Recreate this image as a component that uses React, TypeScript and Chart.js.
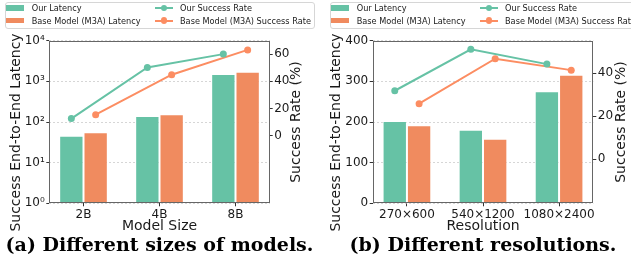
import React, { useEffect, useRef } from "react";
import { Chart, registerables } from "chart.js";

Chart.register(...registerables);
Chart.defaults.font.family = '"DejaVu Sans", sans-serif';

// ---------- data: (a) model size ----------
const sizeCategories = ["2B", "4B", "8B"];
const sizeOurLatency = [46, 141, 1517];
const sizeBaseLatency = [56, 155, 1727];
const sizeOurSuccess = [12.5, 50.3, 60.1];
const sizeBaseSuccess = [15.4, 44.9, 63.2];
const sizeLatencyTicks = [1, 10, 100, 1000, 10000];
const sizeLatencyTickLabels = ["10⁰", "10¹", "10²", "10³", "10⁴"];
const sizeSuccessTicks = [0, 20, 40, 60];

// ---------- data: (b) resolution ----------
const resCategories = ["270×600", "540×1200", "1080×2400"];
const resOurLatency = [202.5, 181, 275.5];
const resBaseLatency = [191.9, 159, 316.4];
const resOurSuccess = [31.9, 51.2, 44.3];
const resBaseSuccess = [25.9, 46.8, 41.5];
const resLatencyTicks = [0, 100, 200, 300, 400];
const resLatencyTickLabels = ["0", "100", "200", "300", "400"];
const resSuccessTicks = [0, 20, 40];

const legendLabels = [
  "Our Latency",
  "Base Model (M3A) Latency",
  "Our Success Rate",
  "Base Model (M3A) Success Rate",
];

const GREEN = "#66c2a5";
const ORANGE = "#fc8d62";
const BAR_GREEN = "#66c2a5";
const BAR_ORANGE = "#f08b5f";
const TEXT = "#1a1a1a";
const FRAME = "#666666";
const OFFSET = 0.16;

interface PanelProps {
  width: number;
  height: number;
  categories: string[];
  ourLat: number[];
  baseLat: number[];
  ourSucc: number[];
  baseSucc: number[];
  yType: "logarithmic" | "linear";
  yMin: number;
  yMax: number;
  yTicks: number[];
  yLabels: string[];
  y1Min: number;
  y1Max: number;
  y1Ticks: number[];
  xTitle: string;
  leftW: number;
  rightW: number;
  top: number;
  bottom: number;
  leftTitleX: number;
  leftTitleY: number;
  rightTitleX: number;
}

function Panel(p: PanelProps) {
  const ref = useRef<HTMLCanvasElement | null>(null);
  useEffect(() => {
    if (!ref.current) return;
    const framePlugin = {
      id: "frameTitles",
      afterDraw(chart: any) {
        const { ctx, chartArea } = chart;
        ctx.save();
        ctx.strokeStyle = FRAME;
        ctx.lineWidth = 1;
        const l = Math.round(chartArea.left) + 0.5;
        const r = Math.round(chartArea.right) - 0.5;
        const t = Math.round(chartArea.top) + 0.5;
        const b = Math.round(chartArea.bottom) - 0.5;
        ctx.strokeRect(l, t, r - l, b - t);
        ctx.fillStyle = TEXT;
        ctx.font = '14px "DejaVu Sans"';
        ctx.textAlign = "center";
        ctx.textBaseline = "middle";
        ctx.translate(p.leftTitleX, p.leftTitleY);
        ctx.rotate(-Math.PI / 2);
        ctx.fillText("Success End-to-End Latency", 0, 0);
        ctx.restore();
        ctx.save();
        ctx.fillStyle = TEXT;
        ctx.font = '14px "DejaVu Sans"';
        ctx.textAlign = "center";
        ctx.textBaseline = "middle";
        ctx.translate(p.rightTitleX, (chartArea.top + chartArea.bottom) / 2);
        ctx.rotate(-Math.PI / 2);
        ctx.fillText("Success Rate (%)", 0, 0);
        ctx.restore();
      },
    };
    const barPts = (vals: number[]) => vals.map((v, i) => ({ x: i, y: v }));
    const linePts = (vals: number[], d: number) => vals.map((v, i) => ({ x: i + d, y: v }));
    const chart = new Chart(ref.current, {
      type: "bar",
      data: {
        datasets: [
          {
            type: "bar",
            label: legendLabels[0],
            data: barPts(p.ourLat),
            backgroundColor: BAR_GREEN,
            borderColor: "rgba(255,255,255,0.45)",
            borderWidth: 1,
            yAxisID: "y",
            xAxisID: "x",
            order: 2,
            categoryPercentage: 0.64,
            barPercentage: 1,
          } as any,
          {
            type: "bar",
            label: legendLabels[1],
            data: barPts(p.baseLat),
            backgroundColor: BAR_ORANGE,
            borderColor: "rgba(255,255,255,0.45)",
            borderWidth: 1,
            yAxisID: "y",
            xAxisID: "x",
            order: 2,
            categoryPercentage: 0.64,
            barPercentage: 1,
          } as any,
          {
            type: "line",
            label: legendLabels[2],
            data: linePts(p.ourSucc, -OFFSET),
            borderColor: GREEN,
            backgroundColor: GREEN,
            borderWidth: 2,
            pointRadius: 3.5,
            pointBorderWidth: 0,
            pointBackgroundColor: GREEN,
            yAxisID: "y1",
            xAxisID: "x",
            order: 0,
          } as any,
          {
            type: "line",
            label: legendLabels[3],
            data: linePts(p.baseSucc, OFFSET),
            borderColor: ORANGE,
            backgroundColor: ORANGE,
            borderWidth: 2,
            pointRadius: 3.5,
            pointBorderWidth: 0,
            pointBackgroundColor: ORANGE,
            yAxisID: "y1",
            xAxisID: "x",
            order: 0,
          } as any,
        ],
      },
      options: {
        animation: false,
        responsive: false,
        devicePixelRatio: 1,
        layout: { padding: { top: p.top, left: 0, right: 0, bottom: 0 } },
        plugins: {
          legend: { display: false },
          tooltip: { enabled: false },
          title: { display: false },
        },
        scales: {
          x: {
            type: "linear",
            min: -0.45,
            max: 2.45,
            offset: false,
            bounds: "data",
            afterBuildTicks: (s: any) => {
              s.ticks = p.categories.map((_, i) => ({ value: i }));
            },
            afterFit: (s: any) => {
              s.height = p.height - p.bottom;
            },
            ticks: {
              autoSkip: false,
              maxRotation: 0,
              padding: 1,
              color: TEXT,
              font: { size: 12 },
              callback: (v: any) => p.categories[Math.round(Number(v))] ?? "",
            },
            grid: {
              display: true,
              drawOnChartArea: false,
              drawTicks: true,
              tickLength: 3,
              tickColor: "#333",
              offset: false,
            },
            border: { display: false },
            title: {
              display: true,
              text: p.xTitle,
              color: TEXT,
              font: { size: 14 },
              padding: { top: 0, bottom: 0 },
            },
          } as any,
          y: {
            type: p.yType,
            position: "left",
            min: p.yMin,
            max: p.yMax,
            afterBuildTicks: (s: any) => {
              s.ticks = p.yTicks.map((v) => ({ value: v }));
            },
            afterFit: (s: any) => {
              s.width = p.leftW;
            },
            ticks: {
              autoSkip: false,
              padding: 1.5,
              color: TEXT,
              font: { size: 12 },
              callback: (_v: any, i: number) => p.yLabels[i],
            },
            grid: {
              color: "rgba(190,190,190,0.8)",
              lineWidth: 0.8,
              drawTicks: true,
              tickLength: 3,
              tickColor: "#333",
              tickWidth: 1,
            },
            border: { display: false, dash: [2, 2] },
          } as any,
          y1: {
            type: "linear",
            position: "right",
            min: p.y1Min,
            max: p.y1Max,
            bounds: "data",
            afterBuildTicks: (s: any) => {
              s.ticks = p.y1Ticks.map((v) => ({ value: v }));
            },
            afterFit: (s: any) => {
              s.width = p.rightW;
            },
            ticks: {
              autoSkip: false,
              padding: 1.5,
              color: TEXT,
              font: { size: 12 },
              callback: (v: any) => String(v),
            },
            grid: {
              drawOnChartArea: false,
              drawTicks: true,
              tickLength: 3,
              tickColor: "#333",
            },
            border: { display: false },
          } as any,
        },
      } as any,
      plugins: [framePlugin],
    });
    return () => chart.destroy();
  }, []);
  return <canvas ref={ref} width={p.width} height={p.height} style={{ width: p.width, height: p.height, display: "block" }} />;
}

function Legend({ left }: { left: number }) {
  const text = (label: string, x: number, y: number) => (
    <div
      style={{
        position: "absolute",
        left: x,
        top: y - 4.8,
        height: 10,
        lineHeight: "10px",
        fontSize: 8.2,
        fontFamily: '"DejaVu Sans"',
        color: TEXT,
        whiteSpace: "nowrap",
      }}
    >
      {label}
    </div>
  );
  const patch = (color: string, y: number) => (
    <div style={{ position: "absolute", left: left + 1, top: y - 2.9, width: 18, height: 5.8, background: color }} />
  );
  const lineHandle = (color: string, y: number) => (
    <>
      <div style={{ position: "absolute", left: left + 150, top: y - 1, width: 18, height: 2, background: color }} />
      <div
        style={{
          position: "absolute",
          left: left + 159 - 3.2,
          top: y - 3.2,
          width: 6.4,
          height: 6.4,
          borderRadius: "50%",
          background: color,
        }}
      />
    </>
  );
  return (
    <>
      <div
        style={{
          position: "absolute",
          left,
          top: 1.5,
          width: 310,
          height: 27,
          border: "1px solid #d6d6d6",
          borderRadius: 3,
          background: "rgba(255,255,255,0.85)",
          boxSizing: "border-box",
        }}
      />
      {patch(BAR_GREEN, 8)}
      {text(legendLabels[0], left + 26.7, 8)}
      {patch(BAR_ORANGE, 20.5)}
      {text(legendLabels[1], left + 26.7, 20.5)}
      {lineHandle(GREEN, 8)}
      {text(legendLabels[2], left + 175, 8)}
      {lineHandle(ORANGE, 20.5)}
      {text(legendLabels[3], left + 175, 20.5)}
    </>
  );
}

function Caption({ text, cx }: { text: string; cx: number }) {
  return (
    <div
      style={{
        position: "absolute",
        left: cx - 200,
        width: 400,
        top: 234.6,
        textAlign: "center",
        fontFamily: '"DejaVu Serif", serif',
        fontWeight: "bold",
        fontSize: 19,
        lineHeight: "19px",
        color: "#000",
        whiteSpace: "nowrap",
      }}
    >
      {text}
    </div>
  );
}

export default function App() {
  return (
    <div
      style={{
        position: "fixed",
        left: 0,
        top: 0,
        width: 631,
        height: 262,
        overflow: "hidden",
        background: "#fff",
      }}
    >
      <div style={{ position: "absolute", left: 0, top: 0 }}>
        <Panel
          width={316}
          height={235}
          categories={sizeCategories}
          ourLat={sizeOurLatency}
          baseLat={sizeBaseLatency}
          ourSucc={sizeOurSuccess}
          baseSucc={sizeBaseSuccess}
          yType="logarithmic"
          yMin={1}
          yMax={10000}
          yTicks={sizeLatencyTicks}
          yLabels={sizeLatencyTickLabels}
          y1Min={-50}
          y1Max={70}
          y1Ticks={sizeSuccessTicks}
          xTitle="Model Size"
          leftW={49.3}
          rightW={46.3}
          top={40.7}
          bottom={203.3}
          leftTitleX={16}
          leftTitleY={132.5}
          rightTitleX={296.7}
        />
      </div>
      <div style={{ position: "absolute", left: 316, top: 0 }}>
        <Panel
          width={315}
          height={235}
          categories={resCategories}
          ourLat={resOurLatency}
          baseLat={resBaseLatency}
          ourSucc={resOurSuccess}
          baseSucc={resBaseSuccess}
          yType="linear"
          yMin={0}
          yMax={400}
          yTicks={resLatencyTicks}
          yLabels={resLatencyTickLabels}
          y1Min={-20.5}
          y1Max={55.2}
          y1Ticks={resSuccessTicks}
          xTitle="Resolution"
          leftW={56.7}
          rightW={37.7}
          top={40.7}
          bottom={203.3}
          leftTitleX={20.2}
          leftTitleY={132.5}
          rightTitleX={305.7}
        />
      </div>
      <Legend left={5} />
      <Legend left={330} />
      <Caption text="(a) Different sizes of models." cx={159.5} />
      <Caption text="(b) Different resolutions." cx={483} />
    </div>
  );
}
